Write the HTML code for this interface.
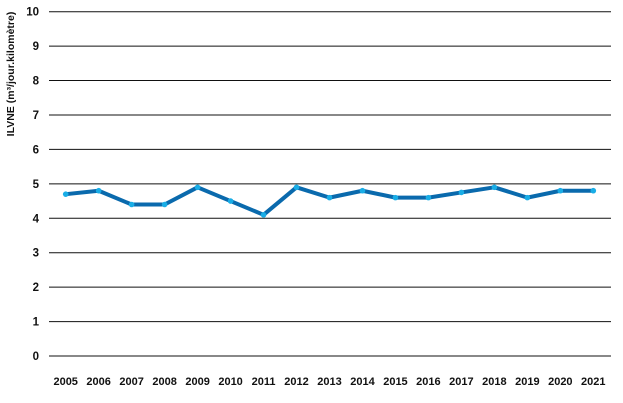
<!DOCTYPE html>
<html><head><meta charset="utf-8"><style>
body{margin:0;background:#fff;}
svg{display:block;font-family:"Liberation Sans",sans-serif;}
</style></head><body>
<svg id="chart" width="623" height="403">
<text transform="translate(14,74) rotate(-90)" text-anchor="middle" font-size="10.5" font-weight="bold" fill="#111">ILVNE (m³/jour.kilomètre)</text>
<g id="grid"></g><g id="xlabels"></g><g id="series"></g>
</svg>
<script>
const categories=["2005","2006","2007","2008","2009","2010","2011","2012","2013","2014","2015","2016","2017","2018","2019","2020","2021"];
const values=[4.7,4.8,4.4,4.4,4.9,4.5,4.1,4.9,4.6,4.8,4.6,4.6,4.75,4.9,4.6,4.8,4.8];
const yTicks=[0,1,2,3,4,5,6,7,8,9,10];
const NS="http://www.w3.org/2000/svg";
const y=v=>356-v*34.43;
const x=i=>65.7+i*(593.3-65.7)/(categories.length-1);
const grid=document.getElementById('grid');
yTicks.forEach(t=>{
 const l=document.createElementNS(NS,'line');
 
 
 l.setAttribute('x1',49);l.setAttribute('x2',611);l.setAttribute('y1',y(t));l.setAttribute('y2',y(t));
 l.setAttribute('stroke','#111');l.setAttribute('stroke-width','1');
 grid.appendChild(l);
 const tx=document.createElementNS(NS,'text');
 
 
 tx.setAttribute('x',39);tx.setAttribute('y',y(t)+4);tx.setAttribute('text-anchor','end');
 tx.setAttribute('font-size','11.5');tx.setAttribute('font-weight','bold');tx.setAttribute('fill','#111');
 tx.textContent=t;grid.appendChild(tx);
});
const xl=document.getElementById('xlabels');
categories.forEach((c,i)=>{
 const tx=document.createElementNS(NS,'text');
 
 
 tx.setAttribute('x',x(i));tx.setAttribute('y',385);tx.setAttribute('text-anchor','middle');
 tx.setAttribute('font-size','11');tx.setAttribute('font-weight','bold');tx.setAttribute('fill','#111');
 tx.textContent=c;xl.appendChild(tx);
});
const s=document.getElementById('series');
const p=document.createElementNS(NS,'polyline');


p.setAttribute('points',values.map((v,i)=>x(i)+','+y(v)).join(' '));
p.setAttribute('fill','none');p.setAttribute('stroke','#0a6aad');p.setAttribute('stroke-width','4');p.setAttribute('stroke-linejoin','round');
s.appendChild(p);
values.forEach((v,i)=>{
 const c=document.createElementNS(NS,'circle');
 
 
 c.setAttribute('cx',x(i));c.setAttribute('cy',y(v));c.setAttribute('r','2.8');c.setAttribute('fill','#19ade6');
 s.appendChild(c);
});
</script>
</body></html>
